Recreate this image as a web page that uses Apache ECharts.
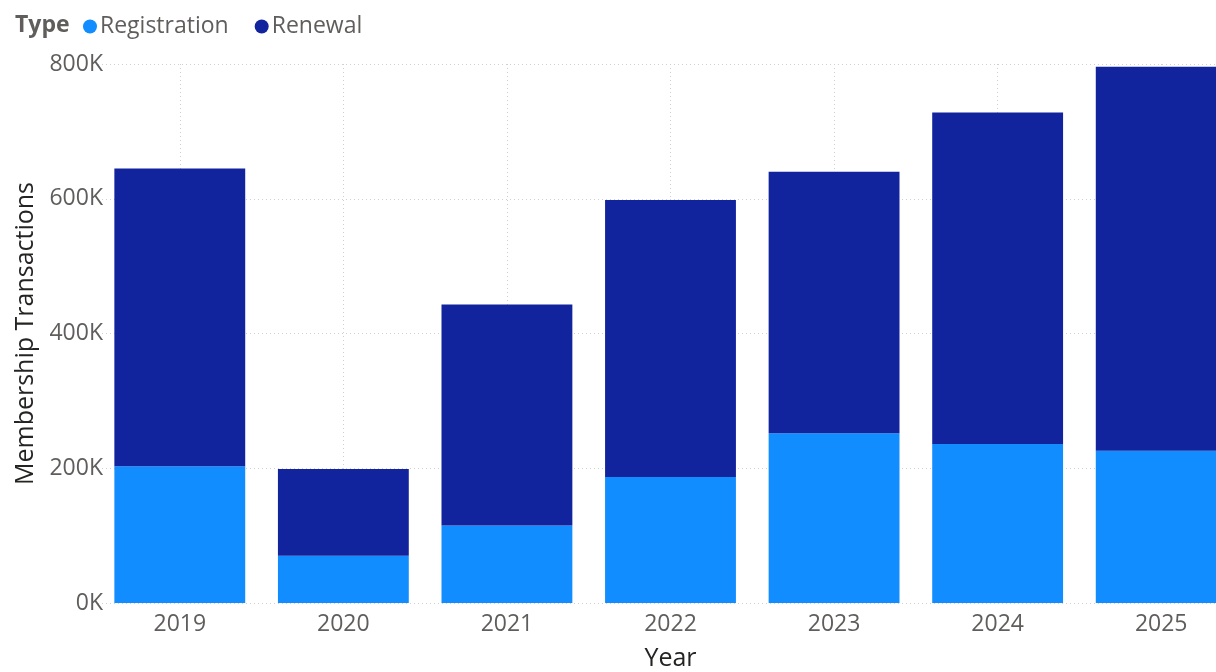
<!DOCTYPE html>
<html>
<head>
<meta charset="utf-8">
<script src="https://cdn.jsdelivr.net/npm/echarts@6/dist/echarts.min.js"></script>
<style>
  html, body { margin: 0; padding: 0; background: #fff; }
  #chart { width: 1216px; height: 672px; }
</style>
</head>
<body>
<div id="chart"></div>
<script>
const years = ['2019', '2020', '2021', '2022', '2023', '2024', '2025'];
const registration = [203000, 70000, 115000, 187000, 252000, 236000, 226000];
const renewal = [442000, 129000, 328000, 411000, 388000, 492000, 570000];
const yTicks = [0, 200000, 400000, 600000, 800000];

const font = '"Segoe UI", "Open Sans", "Noto Sans", sans-serif';

let chart = echarts.init(document.getElementById('chart'));
chart.setOption({
  animation: false,
  textStyle: {fontFamily: font},
  title: {
    text: 'Type',
    left: 10,
    top: 9,
    textStyle: {fontFamily: font, fontSize: 23, fontWeight: 'bold', color: '#605E5C'}
  },
  legend: {
    left: 78,
    top: 10,
    itemWidth: 14,
    itemHeight: 14,
    itemGap: 26,
    icon: 'circle',
    textStyle: {fontFamily: font, fontSize: 23, color: '#605E5C', padding: [0, 0, 0, -2]},
    data: ['Registration', 'Renewal']
  },
  grid: {left: 98, width: 1145, top: 64, bottom: 69, outerBoundsMode: 'none', containLabel: false},
  xAxis: {
    type: 'category',
    data: years,
    name: 'Year',
    nameLocation: 'middle',
    nameGap: 43,
    nameTextStyle: {fontFamily: font, fontSize: 25, color: '#252423'},
    axisLine: {show: false},
    axisTick: {show: false},
    axisLabel: {fontFamily: font, fontSize: 23, color: '#605E5C', margin: 10},
    splitLine: {show: true, alignWithLabel: true, lineStyle: {type: [1, 3], color: '#D0D0D0'}}
  },
  yAxis: {
    type: 'value',
    min: yTicks[0],
    max: yTicks[yTicks.length - 1],
    interval: yTicks[1] - yTicks[0],
    offset: -17,
    name: 'Membership Transactions',
    nameLocation: 'middle',
    nameGap: 71,
    nameTextStyle: {fontFamily: font, fontSize: 25, color: '#252423'},
    axisLine: {show: false},
    axisTick: {show: false},
    axisLabel: {
      fontFamily: font, fontSize: 23, color: '#605E5C', margin: 12,
      formatter: v => (v / 1000) + 'K'
    },
    splitLine: {show: true, lineStyle: {type: [1, 3], color: '#D0D0D0'}}
  },
  series: [
    {
      name: 'Registration',
      type: 'bar',
      stack: 'total',
      barCategoryGap: '20%',
      itemStyle: {color: '#118DFF'},
      data: registration
    },
    {
      name: 'Renewal',
      type: 'bar',
      stack: 'total',
      barCategoryGap: '20%',
      itemStyle: {color: '#12239E'},
      data: renewal
    }
  ]
});
</script>
</body>
</html>
